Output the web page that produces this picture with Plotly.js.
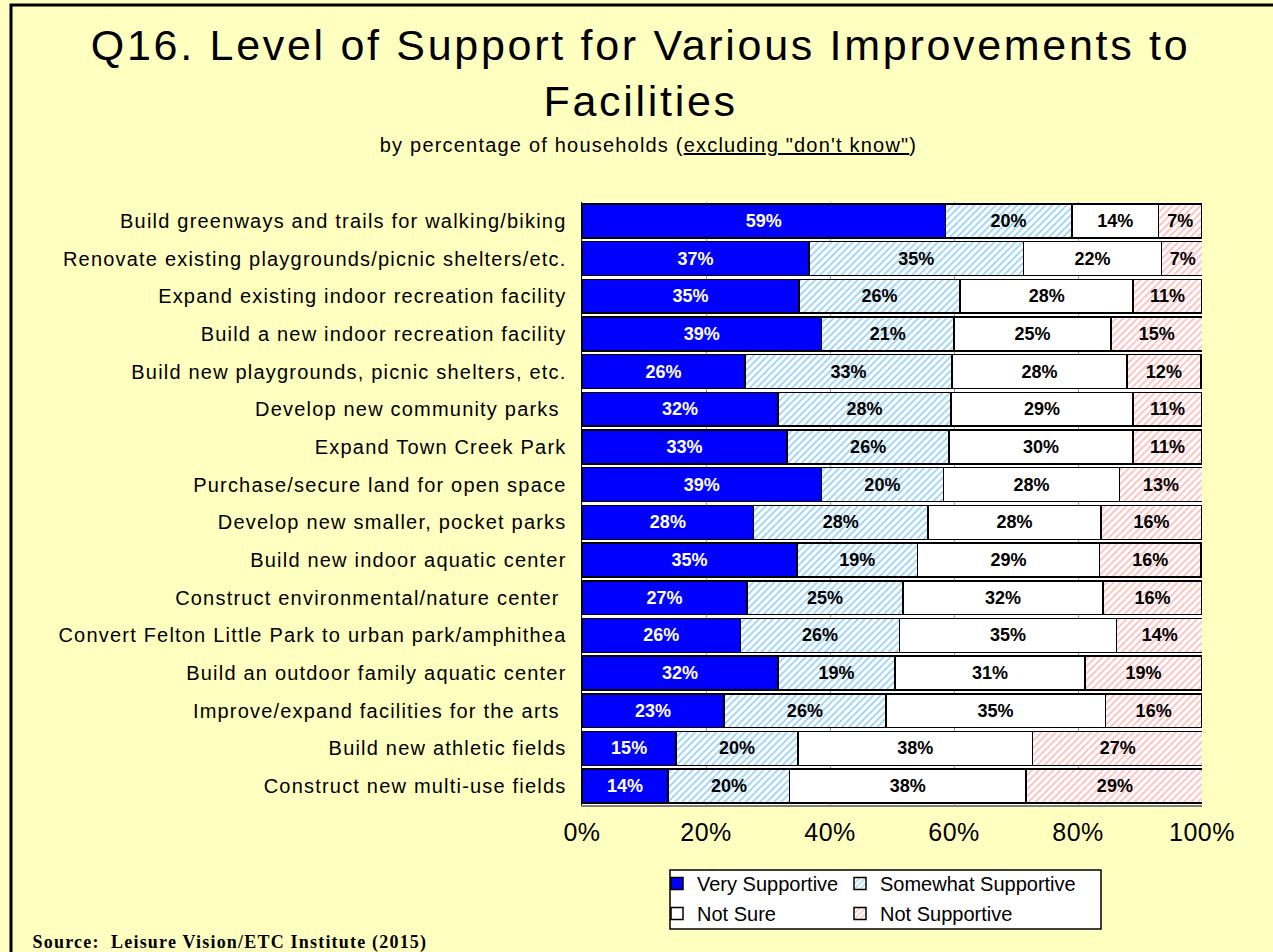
<!DOCTYPE html>
<html>
<head>
<meta charset="utf-8">
<script src="https://cdn.plot.ly/plotly-3.0.1.min.js"></script>
<style>
html,body{margin:0;padding:0;background:#FFFFC0;}
#chart{width:1273px;height:952px;}
#chart .ytick text{letter-spacing:1.2px;}
#chart .xtick text{letter-spacing:0.5px;}
#chart g.annotation[data-index="0"] text{letter-spacing:2.7px;}
#chart g.annotation[data-index="1"] text{letter-spacing:1.2px;}
#chart g.annotation[data-index="2"] text{letter-spacing:1.2px;}
</style>
</head>
<body>
<div id="chart"></div>
<script>
const categories = [
  "Build greenways and trails for walking/biking",
  "Renovate existing playgrounds/picnic shelters/etc.",
  "Expand existing indoor recreation facility",
  "Build a new indoor recreation facility",
  "Build new playgrounds, picnic shelters, etc.",
  "Develop new community parks ",
  "Expand Town Creek Park",
  "Purchase/secure land for open space",
  "Develop new smaller, pocket parks",
  "Build new indoor aquatic center",
  "Construct environmental/nature center ",
  "Convert Felton Little Park to urban park/amphithea",
  "Build an outdoor family aquatic center",
  "Improve/expand facilities for the arts ",
  "Build new athletic fields",
  "Construct new multi-use fields"
];
const verySupportive     = [58.6, 36.6, 35.0, 38.6, 26.3, 31.6, 33.1, 38.6, 27.7, 34.7, 26.6, 25.6, 31.6, 22.9, 15.2, 13.9];
const somewhatSupportive = [20.4, 34.6, 26.0, 21.4, 33.4, 27.9, 26.1, 19.7, 28.1, 19.4, 25.2, 25.6, 18.9, 26.1, 19.6, 19.6];
const notSure            = [14.0, 22.3, 27.9, 25.3, 28.2, 29.4, 29.7, 28.4, 27.9, 29.4, 32.2, 35.0, 30.6, 35.4, 37.9, 38.1];
const notSupportive      = [7.0, 6.8, 11.1, 14.8, 11.9, 11.1, 11.1, 13.4, 16.3, 16.3, 16.0, 14.0, 18.9, 15.6, 27.4, 28.7];
const seriesNames = ["Very Supportive", "Somewhat Supportive", "Not Sure", "Not Supportive"];
const xTicks = [0, 20, 40, 60, 80, 100];

const barFont = "Liberation Sans Narrow, Arial Narrow, Liberation Sans, Arial, sans-serif";
function bar(name, vals, marker, txtColor, legend) {
  return {
    type: "bar", orientation: "h", name: name, showlegend: true,
    x: vals, y: categories,
    marker: Object.assign({line: {color: "#000000", width: 1.5}}, marker),
    text: vals, texttemplate: "<b>%{x:.0f}%</b>",
    textposition: "inside", insidetextanchor: "middle", textangle: 0,
    constraintext: "none",
    textfont: {family: barFont, size: 18, color: txtColor},
    hoverinfo: "skip", legend: legend
  };
}
const data = [
  bar(seriesNames[0], verySupportive, {color: "#0000FF"}, "#FFFFFF", "legend"),
  bar(seriesNames[1], somewhatSupportive, {color: "#FFFFFF", pattern: {shape: "/", fgcolor: "#33A6EE", bgcolor: "#FFFFFF", size: 5, solidity: 0.35, fillmode: "overlay"}}, "#000000", "legend2"),
  bar(seriesNames[2], notSure, {color: "#FFFFFF"}, "#000000", "legend3"),
  bar(seriesNames[3], notSupportive, {color: "#FFFFFF", pattern: {shape: "/", fgcolor: "#FF7C7C", bgcolor: "#FFFFFF", size: 5, solidity: 0.35, fillmode: "overlay"}}, "#000000", "legend4")
];

const L = 582, R = 1202, T = 202, B = 805;
const W = R - L, H = B - T;
const px = x => (x - L) / W;
const py = y => (B - y) / H;

function leg(xp, yp) {
  return {
    orientation: "h", x: px(xp), xanchor: "left", y: py(yp), yanchor: "top",
    bgcolor: "rgba(0,0,0,0)", font: {size: 20, color: "#000000"},
    itemwidth: 30, traceorder: "normal"
  };
}

const layout = {
  width: 1273, height: 952, showlegend: true,
  paper_bgcolor: "#FFFFC0", plot_bgcolor: "#FFFFFF",
  margin: {l: L, r: 1273 - R, t: T, b: 952 - B, pad: 0},
  barmode: "stack", bargap: 0.1,
  font: {family: "Liberation Sans, Arial, sans-serif", color: "#000000"},
  xaxis: {
    range: [0, 100], tickvals: xTicks, ticktext: xTicks.map(v => v + "%"),
    showgrid: true, gridcolor: "#9A9A9A", gridwidth: 1,
    zeroline: false, showline: true, linecolor: "#808080", linewidth: 2,
    ticks: "", tickfont: {size: 25, color: "#000000"}, ticklabelstandoff: 4,
    fixedrange: true
  },
  yaxis: {
    autorange: "reversed", type: "category",
    showline: true, linecolor: "#000000", linewidth: 1.5,
    ticks: "", tickfont: {size: 20, color: "#000000"}, ticklabelstandoff: 10,
    showgrid: false, fixedrange: true
  },
  legend: leg(657, 864),
  legend2: leg(840, 864),
  legend3: leg(657, 894),
  legend4: leg(840, 894),
  shapes: [
    {type: "rect", xref: "paper", yref: "paper", x0: px(670), x1: px(1101), y0: py(929), y1: py(870),
     fillcolor: "#FFFFFF", line: {color: "#000000", width: 1.5}, layer: "below"},
    {type: "rect", xref: "paper", yref: "paper", x0: px(11), x1: px(1290), y0: py(990), y1: py(5),
     fillcolor: "rgba(0,0,0,0)", line: {color: "#000000", width: 3}, layer: "above"}
  ],
  annotations: [
    {text: "Q16. Level of Support for Various Improvements to<br>Facilities",
     xref: "paper", yref: "paper", x: px(640), y: py(73), xanchor: "center", yanchor: "middle",
     showarrow: false, font: {size: 43, color: "#000000"}},
    {text: "by percentage of households (<u>excluding \"don't know\"</u>)",
     xref: "paper", yref: "paper", x: px(648), y: py(145), xanchor: "center", yanchor: "middle",
     showarrow: false, font: {size: 20, color: "#000000"}},
    {text: "<b>Source:  Leisure Vision/ETC Institute (2015)</b>",
     xref: "paper", yref: "paper", x: px(230), y: py(942), xanchor: "center", yanchor: "middle",
     showarrow: false, font: {family: "Liberation Serif, Times New Roman, serif", size: 18, color: "#000000"}}
  ]
};

Plotly.newPlot("chart", data, layout, {displayModeBar: false, staticPlot: true});
</script>
</body>
</html>
